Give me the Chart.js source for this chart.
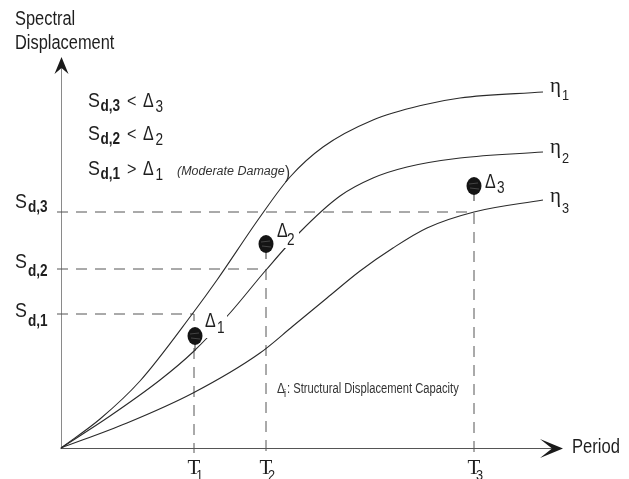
<!DOCTYPE html>
<html><head><meta charset="utf-8">
<script src="https://cdn.jsdelivr.net/npm/chart.js@4.4.0/dist/chart.umd.min.js"></script>
<style>html,body{margin:0;padding:0;background:#fff;overflow:hidden}#wrap{position:relative;width:629px;height:479px}</style>
</head><body><div id="wrap"><canvas id="c" width="629" height="479"></canvas></div>
<script>
// Period (x) vs spectral displacement (y), arbitrary units
const eta1X = [0, 0.39, 0.79, 1.32, 1.56, 1.99, 2.29, 2.62, 3.12, 3.62, 3.99, 4.82];
const eta1Y = [0, 0.29, 0.67, 1.35, 1.68, 2.31, 2.71, 3.01, 3.28, 3.43, 3.50, 3.56];
const eta2X = [0, 0.49, 0.99, 1.32, 1.69, 2.05, 2.39, 2.79, 3.12, 3.46, 3.99, 4.82];
const eta2Y = [0, 0.32, 0.68, 0.96, 1.35, 1.78, 2.16, 2.52, 2.70, 2.81, 2.90, 2.96];
const eta3X = [0, 0.66, 1.32, 1.99, 2.32, 2.66, 2.99, 3.32, 3.66, 4.13, 4.82];
const eta3Y = [0, 0.25, 0.55, 0.95, 1.22, 1.50, 1.77, 2.00, 2.20, 2.36, 2.48];
const periodT = [1.33, 2.05, 4.13];          // T1, T2, T3
const spectralSd = [1.34, 1.79, 2.36];       // Sd,1, Sd,2, Sd,3
const capacityX = [1.34, 2.05, 4.13];        // Δ1, Δ2, Δ3 positions
const capacityY = [1.12, 2.04, 2.62];
const indexLabels = ['1', '2', '3'];
const xMax = 5.02, yMax = 3.88;

// layout-only offsets (pixels)
const sdOff = [[3, 12], [-1, 7], [-4, 0]];           // [S baseline, sub baseline] relative to Sd line
const etaOff = [[0, 8], [1, 11], [2, 13]];
const deltaOff = [[10, -9, 22, -3], [11, -7, 21, 1], [11, 2, 23, 7]];

function pts(xs, ys) { return xs.map((x, i) => ({ x: x, y: ys[i] })); }

// dot glyph (ellipse with short stem)
const dot = document.createElement('canvas');
dot.width = 16; dot.height = 36;
(function () {
  const g = dot.getContext('2d');
  g.strokeStyle = '#333'; g.lineWidth = 1;
  g.beginPath(); g.moveTo(8, 26); g.lineTo(8, 33); g.stroke();
  g.fillStyle = '#141414';
  g.beginPath(); g.ellipse(8, 18, 7.5, 9, 0, 0, Math.PI * 2); g.fill();
  g.strokeStyle = 'rgba(120,120,120,0.6)'; g.lineWidth = 0.8;
  g.beginPath(); g.moveTo(3, 16); g.lineTo(12, 15); g.moveTo(4, 20); g.lineTo(13, 21); g.stroke();
})();

const datasets = [];
datasets.push({ label: 'capacity', type: 'scatter', data: pts(capacityX, capacityY), pointStyle: dot, pointRadius: 8, showLine: false, clip: false });
[[eta1X, eta1Y], [eta2X, eta2Y], [eta3X, eta3Y]].forEach((c, i) => {
  datasets.push({ label: 'eta' + (i + 1), data: pts(c[0], c[1]), borderColor: '#2a2a2a', borderWidth: 1.1, pointRadius: 0, cubicInterpolationMode: 'monotone', fill: false, clip: false });
});
periodT.forEach((t, i) => {
  datasets.push({ label: 'guide' + (i + 1), data: [{ x: -0.04, y: spectralSd[i] }, { x: t, y: spectralSd[i] }, { x: t, y: -0.05 }], borderColor: '#555', borderWidth: 1, borderDash: [11, 8], pointRadius: 0, tension: 0, fill: false, clip: false });
});

const FS = '"Liberation Sans", Arial, sans-serif';
const FSERIF = '"Liberation Serif", "Times New Roman", serif';
function txt(ctx, s, x, y, font, sx, color, align) {
  ctx.save();
  ctx.font = font;
  ctx.fillStyle = color || '#1e1e1e';
  ctx.textBaseline = 'alphabetic';
  ctx.textAlign = align || 'left';
  ctx.translate(x, y);
  ctx.scale(sx, 1);
  ctx.fillText(s, 0, 0);
  const w = ctx.measureText(s).width * sx;
  ctx.restore();
  return w;
}

const deco = {
  id: 'deco',
  beforeDatasetsDraw(chart) {
    const ctx = chart.ctx, xs = chart.scales.x, ys = chart.scales.y;
    const x0 = Math.round(xs.getPixelForValue(0)) + 0.5, y0 = Math.round(ys.getPixelForValue(0)) + 0.5;
    const top = ys.getPixelForValue(yMax), right = xs.getPixelForValue(xMax);
    ctx.save();
    ctx.lineWidth = 1;
    ctx.strokeStyle = '#8a8a8a';
    ctx.beginPath(); ctx.moveTo(x0, y0); ctx.lineTo(x0, top + 8); ctx.stroke();
    ctx.strokeStyle = '#555';
    ctx.beginPath(); ctx.moveTo(x0 - 1, y0); ctx.lineTo(right - 8, y0); ctx.stroke();
    ctx.fillStyle = '#1a1a1a';
    // y arrow
    ctx.beginPath(); ctx.moveTo(x0, top - 3); ctx.lineTo(x0 - 7, top + 14); ctx.lineTo(x0, top + 8); ctx.lineTo(x0 + 7, top + 14); ctx.closePath(); ctx.fill();
    // x arrow
    ctx.beginPath(); ctx.moveTo(right, y0); ctx.lineTo(right - 23, y0 - 9.5); ctx.lineTo(right - 11, y0); ctx.lineTo(right - 23, y0 + 9.5); ctx.closePath(); ctx.fill();
    ctx.restore();
  },
  afterDatasetsDraw(chart) {
    const ctx = chart.ctx, xs = chart.scales.x, ys = chart.scales.y;
    // Δ labels with white backing (cuts the curve as in the figure)
    capacityX.forEach((cx, i) => {
      const px = xs.getPixelForValue(cx), py = ys.getPixelForValue(capacityY[i]);
      const o = deltaOff[i];
      ctx.save(); ctx.fillStyle = '#fff';
      ctx.fillRect(px + o[0] - 1, py + o[1] - 17, 23, 28);
      ctx.restore();
      txt(ctx, 'Δ', px + o[0], py + o[1], '20px ' + FS, 0.8);
      txt(ctx, indexLabels[i], px + o[2], py + o[3], '16px ' + FS, 0.85);
    });
    // η labels
    const ends = [[eta1X, eta1Y], [eta2X, eta2Y], [eta3X, eta3Y]];
    ends.forEach((c, i) => {
      const n = c[0].length - 1;
      const px = xs.getPixelForValue(c[0][n]), py = ys.getPixelForValue(c[1][n]);
      txt(ctx, 'η', px + 7, py + etaOff[i][0], '21px ' + FSERIF, 1);
      txt(ctx, indexLabels[i], px + 19, py + etaOff[i][1], '15px ' + FS, 0.85);
    });
    // Sd labels
    spectralSd.forEach((s, i) => {
      const py = ys.getPixelForValue(s);
      const w = txt(ctx, 'S', 15, py + sdOff[i][0], '21px ' + FS, 0.85);
      txt(ctx, 'd,' + indexLabels[i], 15 + w + 1, py + sdOff[i][1], 'bold 16px ' + FS, 0.85);
    });
    // T labels
    periodT.forEach((t, i) => {
      const px = xs.getPixelForValue(t);
      txt(ctx, 'T', px, 474, '21px ' + FSERIF, 1, '#1e1e1e', 'center');
      txt(ctx, indexLabels[i], px + 2, 480, '15px ' + FS, 0.85);
    });
    // axis titles
    txt(ctx, 'Spectral', 15, 25, '20px ' + FS, 0.82);
    txt(ctx, 'Displacement', 15, 49, '20px ' + FS, 0.82);
    txt(ctx, 'Period', 572, 453, '20px ' + FS, 0.83);
    // inequalities
    const rows = [[107, '<', '3'], [140, '<', '2'], [175, '>', '1']];
    rows.forEach(r => {
      const b = r[0];
      txt(ctx, 'S', 88, b, '21px ' + FS, 0.85);
      txt(ctx, 'd,' + r[2], 100.5, b + 4, 'bold 16px ' + FS, 0.85);
      txt(ctx, r[1], 127, b, '19px ' + FS, 0.85);
      txt(ctx, 'Δ', 143, b, '20px ' + FS, 0.8);
      txt(ctx, r[2], 155.5, b + 5, '16px ' + FS, 0.85);
    });
    txt(ctx, '(Moderate Damage', 177, 175, 'italic 12.5px ' + FS, 1, '#333');
    txt(ctx, ')', 285, 178, '18px ' + FS, 0.85, '#333');
    // capacity note
    txt(ctx, 'Δ', 277, 393, '15px ' + FS, 0.8, '#333');
    txt(ctx, 'i', 284, 397, '11px ' + FS, 0.85, '#333');
    txt(ctx, ': Structural Displacement Capacity', 287, 393, '14px ' + FS, 0.8, '#333');
  }
};

new Chart(document.getElementById('c'), {
  type: 'line',
  data: { datasets: datasets },
  options: {
    responsive: false, animation: false, devicePixelRatio: 1,
    layout: { padding: { left: 61, right: 66, top: 60, bottom: 31 } },
    plugins: { legend: { display: false }, tooltip: { enabled: false }, title: { display: false } },
    scales: {
      x: { type: 'linear', min: 0, max: xMax, display: false },
      y: { type: 'linear', min: 0, max: yMax, display: false }
    }
  },
  plugins: [deco]
});
</script>
</body></html>
